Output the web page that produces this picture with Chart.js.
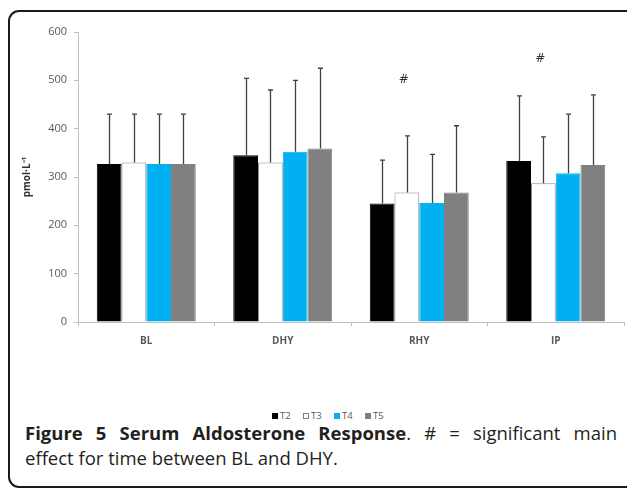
<!DOCTYPE html>
<html>
<head>
<meta charset="utf-8">
<script src="https://cdn.jsdelivr.net/npm/chart.js@4.4.1/dist/chart.umd.min.js"></script>
<style>
  html, body { margin: 0; padding: 0; background: #fff; }
  body { width: 627px; height: 488px; position: relative; overflow: hidden; font-family: "Open Sans", sans-serif; }
  #frame {
    position: absolute; left: 8px; top: 10px; width: 680px; height: 474px;
    border: 2px solid #1a1a1a; border-radius: 11px;
  }
  #chartBox { position: absolute; left: 0; top: 0; width: 627px; height: 362px; }
  #legend { position: absolute; left: 272px; top: 409px; height: 12px; font-size: 9.5px; color: #595959; white-space: nowrap; }
  #legend span.item { display: inline-block; width: 31px; }
  #legend span.box { display: inline-block; width: 6px; height: 6px; box-sizing: border-box; margin-right: 2px; vertical-align: 0px; }
  #caption { position: absolute; left: 25px; top: 420px; width: 592px; font-size: 18.5px; color: #231f20; line-height: 25px; }
  #caption .l1 { text-align: justify; text-align-last: justify; }
</style>
</head>
<body>
<div id="frame"></div>
<div id="chartBox"><canvas id="aldoChart"></canvas></div>
<div id="legend"></div>
<div id="caption">
  <div class="l1"><b>Figure 5 Serum Aldosterone Response</b>. # = significant main</div>
  <div>effect for time between BL and DHY.</div>
</div>
<script>
document.addEventListener('DOMContentLoaded', function() {
  // Data
  const categories = ['BL', 'DHY', 'RHY', 'IP'];
  const seriesNames = ['T2', 'T3', 'T4', 'T5'];
  const t2Values = [327, 345, 245, 333];
  const t3Values = [330, 330, 268, 287];
  const t4Values = [327, 352, 246, 308];
  const t5Values = [327, 359, 268, 325];
  const t2Sd = [103, 159, 90, 135];
  const t3Sd = [100, 150, 117, 96];
  const t4Sd = [103, 148, 101, 122];
  const t5Sd = [103, 166, 138, 145];
  const yTicks = [0, 100, 200, 300, 400, 500, 600];
  // significance marks (#), placed above the T3 bar
  const hashCategories = ['RHY', 'IP'];
  const hashValues = [500, 545];

  const fills = ['#000000', '#ffffff', '#00b0f0', '#808080'];
  const borders = ['#000000', '#8c8c8c', '#00b0f0', '#808080'];
  const allValues = [t2Values, t3Values, t4Values, t5Values];
  const allSd = [t2Sd, t3Sd, t4Sd, t5Sd];

  const datasets = seriesNames.map((name, i) => ({
    label: name,
    data: allValues[i],
    sd: allSd[i],
    backgroundColor: fills[i],
    borderColor: borders[i],
    borderWidth: 1,
    categoryPercentage: 0.725,
    barPercentage: 1.0
  }));

  // Error bars and # marks
  const extrasPlugin = {
    id: 'extras',
    afterDatasetsDraw(chart) {
      const ctx = chart.ctx;
      const y = chart.scales.y;
      ctx.save();
      ctx.strokeStyle = '#404040';
      ctx.lineWidth = 1.3;
      chart.data.datasets.forEach((ds, di) => {
        const meta = chart.getDatasetMeta(di);
        meta.data.forEach((bar, i) => {
          const top = y.getPixelForValue(ds.data[i] + ds.sd[i]);
          const x = Math.round(bar.x) + 0.5;
          ctx.beginPath();
          ctx.moveTo(x, bar.y);
          ctx.lineTo(x, top);
          ctx.moveTo(x - 2.5, top);
          ctx.lineTo(x + 2.5, top);
          ctx.stroke();
        });
      });
      ctx.fillStyle = '#333333';
      ctx.font = '12px "DejaVu Sans", sans-serif';
      ctx.textAlign = 'center';
      ctx.textBaseline = 'middle';
      const t3Meta = chart.getDatasetMeta(1);
      hashCategories.forEach((cat, k) => {
        const idx = categories.indexOf(cat);
        const bar = t3Meta.data[idx];
        ctx.fillText('#', bar.x - 3, y.getPixelForValue(hashValues[k]));
      });
      ctx.restore();
    }
  };

  const ctx = document.getElementById('aldoChart');
  new Chart(ctx, {
    type: 'bar',
    data: { labels: categories, datasets: datasets },
    options: {
      responsive: true,
      maintainAspectRatio: false,
      animation: false,
      layout: { padding: { top: 32, right: 3, left: 0, bottom: 0 } },
      scales: {
        x: {
          afterFit: function(scale) { scale.height = 40; },
          grid: { display: true, drawOnChartArea: false, drawTicks: true, tickLength: 4, color: '#bfbfbf', offset: true },
          border: { display: true, color: '#bfbfbf', width: 1 },
          ticks: { color: '#595959', padding: 9, font: { family: 'Open Sans', size: 10, weight: 'bold' } }
        },
        y: {
          min: 0,
          max: 600,
          afterFit: function(scale) { scale.width = 78; },
          afterBuildTicks: function(scale) { scale.ticks = yTicks.map(v => ({ value: v })); },
          grid: { display: true, drawOnChartArea: false, drawTicks: true, tickLength: 4, color: '#bfbfbf' },
          border: { display: true, color: '#bfbfbf', width: 1 },
          ticks: { color: '#595959', padding: 7, font: { family: 'Open Sans', size: 11 } },
          title: {
            display: true,
            text: 'pmol·L⁻¹',
            color: '#333333',
            padding: { top: 21, bottom: 0 },
            font: { family: 'Open Sans', size: 10, weight: 'bold' }
          }
        }
      },
      plugins: {
        legend: { display: false },
        tooltip: { enabled: false }
      }
    },
    plugins: [extrasPlugin]
  });

  // Legend built from the series
  const legend = document.getElementById('legend');
  seriesNames.forEach((name, i) => {
    const item = document.createElement('span');
    item.className = 'item';
    const box = document.createElement('span');
    box.className = 'box';
    box.style.background = fills[i];
    box.style.border = '1px solid ' + (i === 1 ? '#7f7f7f' : fills[i]);
    item.appendChild(box);
    item.appendChild(document.createTextNode(name));
    legend.appendChild(item);
  });
});
</script>
</body>
</html>
